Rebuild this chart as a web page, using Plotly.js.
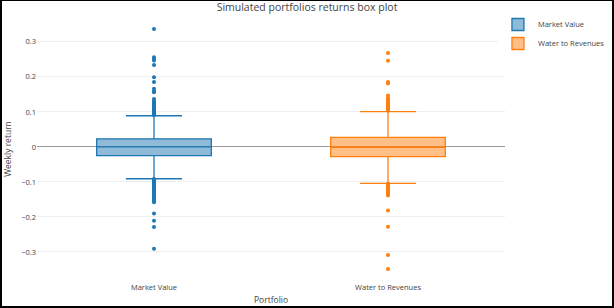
<!DOCTYPE html>
<html>
<head>
<meta charset="utf-8">
<script src="https://cdn.plot.ly/plotly-3.0.1.min.js"></script>
<style>
  html, body { margin: 0; padding: 0; background: #fff; }
  #wrap { position: relative; width: 614px; height: 308px; overflow: hidden; }
  #chart { width: 614px; height: 308px; }
  #frame { position: absolute; left: 0; top: 0; width: 614px; height: 308px; box-sizing: border-box;
           border-style: solid; border-color: #000; border-width: 1px 2px 2px 2px; pointer-events: none; }
</style>
</head>
<body>
<div id="wrap"><div id="chart"></div><div id="frame"></div></div>
<script>
// Categories (portfolios)
const portfolios = ["Market Value", "Water to Revenues"];

// Box statistics (weekly return)
const q1Values     = [-0.025, -0.028];
const medianValues = [0.000, -0.001];
const q3Values     = [0.023, 0.027];
const lowerFences  = [-0.091, -0.104];
const upperFences  = [0.089, 0.101];

// Outliers
const outliersMarketValue = [
  0.337, 0.256, 0.251, 0.247, 0.234, 0.199, 0.185, 0.166, 0.160, 0.156, 0.137,
  0.131, 0.127, 0.124, 0.121, 0.118, 0.115, 0.113, 0.111, 0.109, 0.106, 0.104,
  0.102, 0.100, 0.098, 0.097, 0.095, 0.094, 0.092, 0.091,
  -0.092, -0.094, -0.096, -0.098, -0.100, -0.102, -0.104, -0.106, -0.108, -0.110,
  -0.112, -0.115, -0.117, -0.120, -0.122, -0.125, -0.128, -0.131, -0.134, -0.137,
  -0.140, -0.143, -0.146, -0.149, -0.152, -0.155, -0.158, -0.190, -0.211, -0.229, -0.291
];
const outliersWaterToRevenues = [
  0.268, 0.246, 0.185, 0.181, 0.147, 0.140, 0.137, 0.133, 0.130, 0.127, 0.124,
  0.121, 0.118, 0.115, 0.112, 0.109, 0.106, 0.104,
  -0.105, -0.107, -0.109, -0.111, -0.113, -0.115, -0.117, -0.120, -0.122, -0.125,
  -0.128, -0.131, -0.134, -0.137, -0.139, -0.182, -0.228, -0.309, -0.349
];

const colors = ["#1f77b4", "#ff7f0e"];
const fills = ["rgba(31,119,180,0.5)", "rgba(255,127,14,0.5)"];
const outliers = [outliersMarketValue, outliersWaterToRevenues];

const traces = [];
portfolios.forEach((name, i) => {
  traces.push({
    type: "box",
    name: name,
    x: [name],
    q1: [q1Values[i]],
    median: [medianValues[i]],
    q3: [q3Values[i]],
    lowerfence: [lowerFences[i]],
    upperfence: [upperFences[i]],
    boxpoints: false,
    width: 0.49,
    whiskerwidth: 0.49,
    line: { color: colors[i], width: 1.3 },
    fillcolor: fills[i],
    hoverinfo: "skip"
  });
});
portfolios.forEach((name, i) => {
  traces.push({
    type: "scatter",
    mode: "markers",
    x: outliers[i].map(() => name),
    y: outliers[i],
    marker: { color: colors[i], size: 4 },
    showlegend: false,
    hoverinfo: "skip"
  });
});

const layout = {
  width: 614,
  height: 308,
  margin: { l: 37, r: 109, t: 17, b: 27, pad: 0, autoexpand: false },
  paper_bgcolor: "#fff",
  plot_bgcolor: "#fff",
  font: { family: "Open Sans, verdana, arial, sans-serif", size: 7.5, color: "#444" },
  title: {
    text: "Simulated portfolios returns box plot",
    font: { size: 10.5, color: "#444" },
    x: 0.5, xref: "container", xanchor: "center", y: 0.975, yref: "container", yanchor: "middle"
  },
  showlegend: true,
  legend: {
    xref: "container", yref: "container",
    x: 0.811, y: 0.9675, xanchor: "left", yanchor: "top",
    font: { size: 7.5 }
  },
  xaxis: {
    type: "category",
    categoryorder: "array",
    categoryarray: portfolios,
    range: [-0.5, 1.5],
    showgrid: false,
    zeroline: false,
    title: { text: "Portfolio", font: { size: 8.5 }, standoff: 6 },
    automargin: false
  },
  yaxis: {
    range: [-0.383, 0.371],
    dtick: 0.1,
    tick0: 0,
    gridcolor: "#eee",
    gridwidth: 1,
    zeroline: true,
    zerolinecolor: "#999",
    zerolinewidth: 1,
    title: { text: "Weekly return", font: { size: 8.5 }, standoff: 8 },
    automargin: false
  }
};

Plotly.newPlot("chart", traces, layout, { displayModeBar: false, staticPlot: true });
</script>
</body>
</html>
